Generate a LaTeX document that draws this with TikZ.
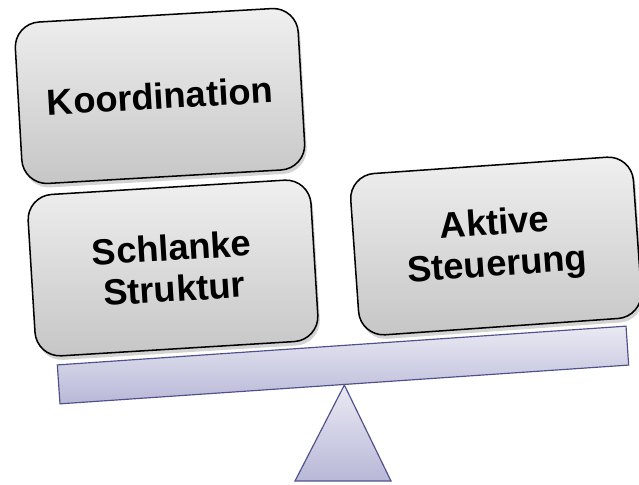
\documentclass[tikz,border=0pt]{standalone}
\usepackage{fontspec}
\setmainfont{Liberation Sans}
\usepackage{tikz}
\usepackage{xcolor}
\usetikzlibrary{shadows}

\definecolor{plankline}{HTML}{50508C}
\definecolor{plankfill}{HTML}{B8B8D8}

\begin{document}
\begin{tikzpicture}[x=0.03cm, y=-0.03cm]
	\tikzstyle{box} = [draw = black, line width=1.3pt, rounded corners=0.75cm, top color=gray!12, bottom color=gray!45, minimum width=8.5cm, minimum height=4.85cm, align=center, font=\fontsize{31}{35}\selectfont\bfseries, drop shadow={opacity=0.35, shadow xshift=0.06cm, shadow yshift=-0.12cm}]
\tikzstyle{board} = [draw = plankline, line width=1pt, top color=plankfill!30, bottom color=plankfill]
\useasboundingbox (0,0) rectangle (639,485);
% beam and pivot
\node(plank)[board, rotate=3.9, minimum width=17.1cm, minimum height=1.17cm, inner sep=0pt] at (343,365) {};
\coordinate(baseL) at (295,481);
\coordinate(baseR) at (391,481);
\draw[board] (plank.south) -- (baseL) -- (baseR) -- cycle;
% boxes
\node(koord)[box, rotate=3.3] at (160,96) {Koordination};
\node(schlank)[box, rotate=3.5] at (173,268) {Schlanke\\Struktur};
\node(aktiv)[box, rotate=4] at (496,246) {Aktive\\Steuerung};
  \end{tikzpicture}
\end{document}
